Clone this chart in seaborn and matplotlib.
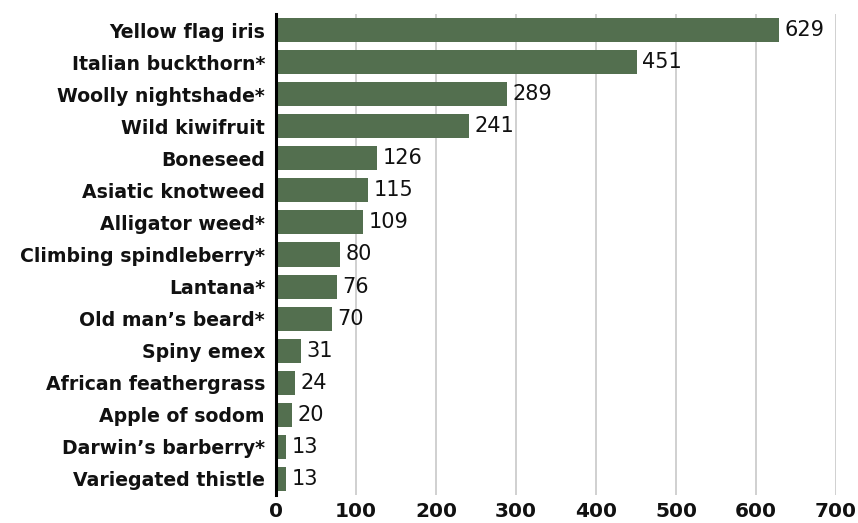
import matplotlib
matplotlib.use("Agg")
import matplotlib.pyplot as plt
import seaborn as sns
import pandas as pd

species = [
    "Yellow flag iris", "Italian buckthorn*", "Woolly nightshade*", "Wild kiwifruit",
    "Boneseed", "Asiatic knotweed", "Alligator weed*", "Climbing spindleberry*",
    "Lantana*", "Old man’s beard*", "Spiny emex", "African feathergrass",
    "Apple of sodom", "Darwin’s barberry*", "Variegated thistle",
]
counts = [629, 451, 289, 241, 126, 115, 109, 80, 76, 70, 31, 24, 20, 13, 13]
x_ticks = [0, 100, 200, 300, 400, 500, 600, 700]

df = pd.DataFrame({"species": species, "count": counts})

sns.set_theme(style="white")
plt.rcParams["font.family"] = ["DejaVu Sans"]

fig = plt.figure(figsize=(8.58, 5.23), dpi=100)
ax = fig.add_axes([276 / 858, 1 - 495 / 523, (836 - 276) / 858, (495 - 14) / 523])

sns.barplot(data=df, x="count", y="species", color="#536f4f", saturation=1,
            width=0.75, linewidth=0, ax=ax, zorder=3)

ax.set_xlim(0, 700)
ax.set_ylim(len(species) - 0.5, -0.5)
ax.set_xticks(x_ticks)
ax.set_xticklabels([str(t) for t in x_ticks], fontsize=14.5, fontweight="bold", color="#111111")
ax.set_yticklabels(species, fontsize=13.6, fontweight="bold", color="#111111")
ax.tick_params(axis="both", length=0)
ax.tick_params(axis="x", pad=5)
ax.tick_params(axis="y", pad=8)
ax.set_xlabel("")
ax.set_ylabel("")

ax.grid(axis="x", color="#c4c4c4", linewidth=1.1, zorder=0)
ax.grid(axis="y", visible=False)
for side in ["top", "right", "bottom"]:
    ax.spines[side].set_visible(False)
ax.spines["left"].set_color("#000000")
ax.spines["left"].set_linewidth(2.2)
ax.spines["left"].set_zorder(5)

for container in ax.containers:
    ax.bar_label(container, labels=[str(v) for v in counts], padding=4,
                 fontsize=15, color="#111111")

fig.savefig("out.png", dpi=100)
